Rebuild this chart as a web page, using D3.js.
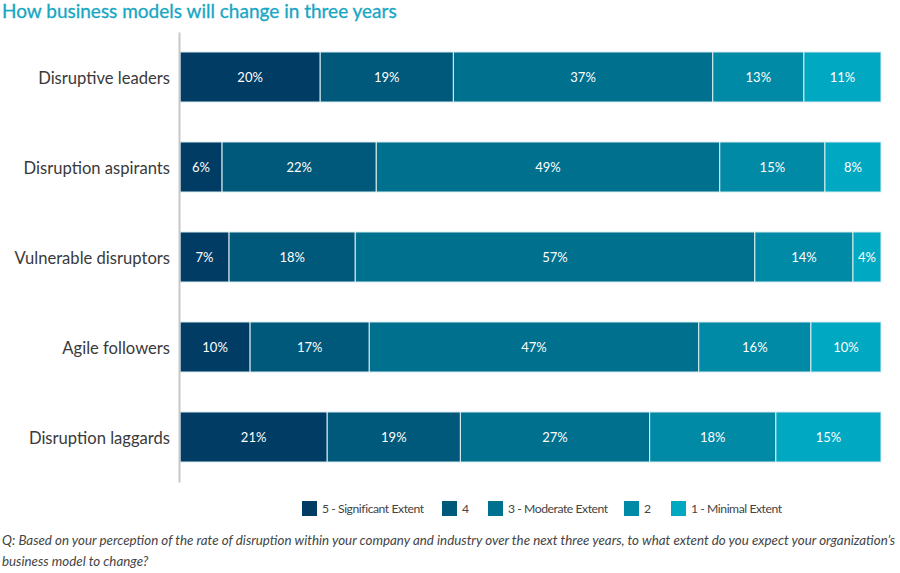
<!DOCTYPE html>
<html>
<head>
<meta charset="utf-8">
<script src="https://cdn.jsdelivr.net/npm/d3@7"></script>
<style>
	body { margin: 0; background: #fff; font-family: Lato, "Open Sans", sans-serif; }
	.cat-label { font-size: 16.6px; fill: #3a3a3a; }
	.bar-label { font-size: 13px; fill: #fff; }
	.legend-item { font-size: 12.2px; fill: #444; letter-spacing: -0.45px; }
	.note { font-size: 13.35px; fill: #444; font-style: italic; }
</style>
</head>
<body>
<svg id="chart"></svg>
<script>
const categories = ["Disruptive leaders", "Disruption aspirants", "Vulnerable disruptors", "Agile followers", "Disruption laggards"]
const keys = ["5 - Significant Extent", "4", "3 - Moderate Extent", "2", "1 - Minimal Extent"]
const significant = [20, 6, 7, 10, 21]
const four = [19, 22, 18, 17, 19]
const moderate = [37, 49, 57, 47, 27]
const two = [13, 15, 14, 16, 18]
const minimal = [11, 8, 4, 10, 15]
const colors = ["#003c64", "#00587b", "#00708f", "#008aa6", "#00a8c2"]

const viewWidth = 900
const viewHeight = 573

const data = categories.map(function (c, i) {
	return {
		name: c,
		[keys[0]]: significant[i],
		[keys[1]]: four[i],
		[keys[2]]: moderate[i],
		[keys[3]]: two[i],
		[keys[4]]: minimal[i]
	}
})

const svg = d3.select("#chart")
	.attr("width", viewWidth)
	.attr("height", viewHeight)

svg.append("text")
	.attr("x", 2)
	.attr("y", 18)
	.style("font-size", "19px")
	.style("fill", "#17a6c4")
	.style("stroke", "#17a6c4")
	.style("stroke-width", "0.3px")
	.text("How business models will change in three years")

const x = d3.scaleLinear()
	.domain([0, 100])
	.range([180, 881])

const y = d3.scaleBand()
	.domain(categories)
	.range([32, 482])
	.paddingInner(0.444)
	.paddingOuter(0.222)

const color = d3.scaleOrdinal()
	.domain(keys)
	.range(colors)

const stackedData = d3.stack().keys(keys)(data)

const layers = svg.append("g")
	.selectAll("g")
	.data(stackedData)
	.enter()
	.append("g")
	.style("fill", function (d) { return color(d.key) })

layers.selectAll("rect")
	.data(function (d) { return d })
	.enter()
	.append("rect")
	.attr("x", function (d) { return x(d[0]) })
	.attr("y", function (d) { return y(d.data.name) })
	.attr("width", function (d) { return x(d[1]) - x(d[0]) })
	.attr("height", y.bandwidth())
	.attr("stroke", "#dfeff3")
	.attr("stroke-width", 1)

layers.selectAll("text")
	.data(function (d) { return d })
	.enter()
	.append("text")
	.attr("class", "bar-label")
	.attr("x", function (d) { return (x(d[0]) + x(d[1])) / 2 })
	.attr("y", function (d) { return y(d.data.name) + y.bandwidth() / 2 })
	.attr("dy", "0.4em")
	.attr("text-anchor", "middle")
	.text(function (d) { return (d[1] - d[0]) + "%" })

// category axis, line only
const yAxis = svg.append("g")
	.attr("transform", "translate(179,0)")
	.call(d3.axisLeft(y).tickSize(0).tickPadding(9))
	.attr("font-family", null)
	.attr("font-size", null)
yAxis.select(".domain").attr("stroke", "#c8c8c8").attr("stroke-width", 2)
yAxis.selectAll(".tick text")
	.attr("class", "cat-label")
	.attr("fill", null)
	.attr("dy", "0.45em")

// legend
const legendX = [302, 442, 488, 624, 671]
const legend = svg.append("g")
	.selectAll("g")
	.data(keys)
	.enter()
	.append("g")
	.attr("transform", function (d, i) { return "translate(" + legendX[i] + ",501)" })

legend.append("rect")
	.attr("width", 15)
	.attr("height", 15)
	.style("fill", function (d) { return color(d) })

legend.append("text")
	.attr("class", "legend-item")
	.attr("x", 20)
	.attr("y", 7.5)
	.attr("dy", "0.38em")
	.text(function (d) { return d })

svg.append("text")
	.attr("class", "note")
	.attr("x", 2)
	.attr("y", 545)
	.text("Q: Based on your perception of the rate of disruption within your company and industry over the next three years, to what extent do you expect your organization\u2019s")

svg.append("text")
	.attr("class", "note")
	.attr("x", 2)
	.attr("y", 566)
	.text("business model to change?")
</script>
</body>
</html>
